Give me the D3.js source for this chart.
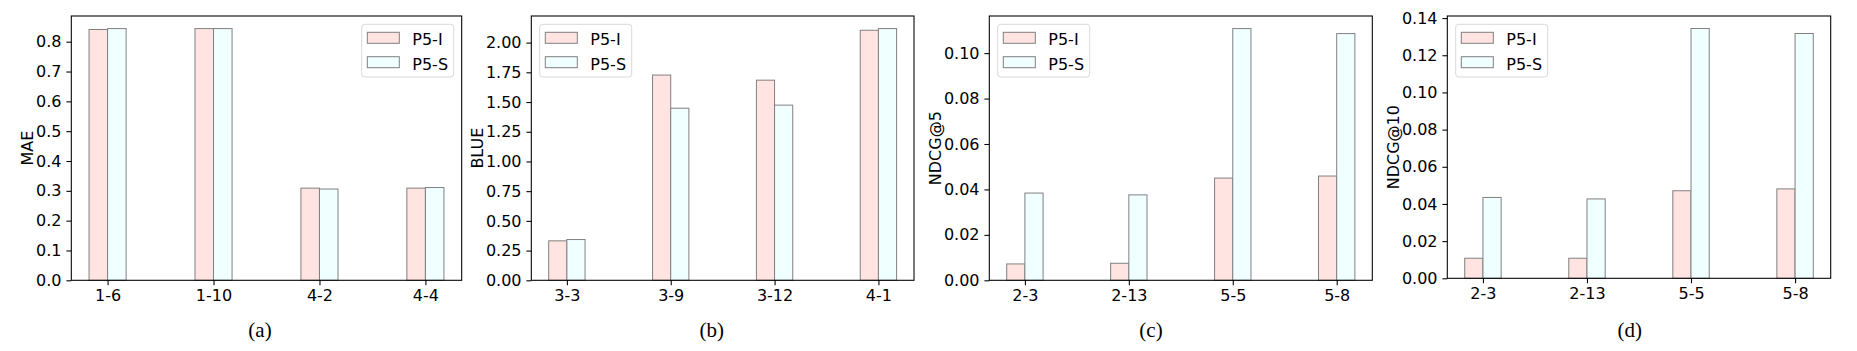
<!DOCTYPE html>
<html>
<head>
<meta charset="utf-8">
<script src="https://cdn.jsdelivr.net/npm/d3@7"></script>
<style>
  body { margin: 0; background: #fff; }
  svg { display: block; }
  text { font-family: "DejaVu Sans", sans-serif; fill: #000; }
  .caption { font-family: "Liberation Serif", "DejaVu Serif", serif; }
</style>
</head>
<body>
<svg id="chart" width="1857" height="351"></svg>
<script>
const series = ["P5-I", "P5-S"];
const colors = ["#ffe4e1", "#f0ffff"];

// (a) MAE
const catsA = ["1-6", "1-10", "4-2", "4-4"];
const p5iA = [0.841, 0.844, 0.309, 0.309];
const p5sA = [0.844, 0.844, 0.306, 0.311];
const ticksA = [0, 0.1, 0.2, 0.3, 0.4, 0.5, 0.6, 0.7, 0.8];

// (b) BLUE
const catsB = ["3-3", "3-9", "3-12", "4-1"];
const p5iB = [0.332, 1.727, 1.684, 2.104];
const p5sB = [0.343, 1.448, 1.474, 2.118];
const ticksB = [0, 0.25, 0.5, 0.75, 1.0, 1.25, 1.5, 1.75, 2.0];

// (c) NDCG@5
const catsC = ["2-3", "2-13", "5-5", "5-8"];
const p5iC = [0.0072, 0.0075, 0.0450, 0.0459];
const p5sC = [0.0384, 0.0376, 0.1108, 0.1086];
const ticksC = [0, 0.02, 0.04, 0.06, 0.08, 0.10];

// (d) NDCG@10
const catsD = ["2-3", "2-13", "5-5", "5-8"];
const p5iD = [0.0108, 0.0108, 0.0471, 0.0481];
const p5sD = [0.0435, 0.0427, 0.1344, 0.1317];
const ticksD = [0, 0.02, 0.04, 0.06, 0.08, 0.10, 0.12, 0.14];

const panels = [
  {cats: catsA, vals: [p5iA, p5sA], ticks: ticksA, fmt: ".1f", label: "MAE", caption: "(a)",
   left: 71.3, right: 461.7, top: 16, bottom: 280.3, capX: 260, legend: "right"},
  {cats: catsB, vals: [p5iB, p5sB], ticks: ticksB, fmt: ".2f", label: "BLUE", caption: "(b)",
   left: 531.3, right: 914, top: 16, bottom: 280.3, capX: 711.7, legend: "left"},
  {cats: catsC, vals: [p5iC, p5sC], ticks: ticksC, fmt: ".2f", label: "NDCG@5", caption: "(c)",
   left: 989.3, right: 1372.3, top: 16, bottom: 280.3, capX: 1151, legend: "left"},
  {cats: catsD, vals: [p5iD, p5sD], ticks: ticksD, fmt: ".2f", label: "NDCG@10", caption: "(d)",
   left: 1447.3, right: 1830.7, top: 16, bottom: 278.3, capX: 1629.7, legend: "left"}
];

const svg = d3.select("#chart");
const barW = 0.175;
const tick = 4.9;

panels.forEach(p => {
  const n = p.cats.length;
  const span = (n - 1) + 2 * barW;
  const x = d3.scaleLinear()
    .domain([-barW - 0.05 * span, n - 1 + barW + 0.05 * span])
    .range([p.left, p.right]);
  const ymax = d3.max(p.vals.flat()) * 1.05;
  const y = d3.scaleLinear().domain([0, ymax]).range([p.bottom, p.top]);

  const g = svg.append("g");

  // bars
  p.vals.forEach((vals, s) => {
    g.selectAll(null)
      .data(vals)
      .enter()
      .append("rect")
      .attr("x", (d, i) => x(i - barW + s * barW))
      .attr("width", x(barW) - x(0))
      .attr("y", d => y(d))
      .attr("height", d => y(0) - y(d))
      .attr("fill", colors[s])
      .attr("stroke", "#808080")
      .attr("stroke-width", 1);
  });

  // axes
  const xa = g.append("g")
    .attr("transform", `translate(0,${p.bottom})`)
    .call(d3.axisBottom(x).tickValues(d3.range(n)).tickFormat(i => p.cats[i])
      .tickSize(tick).tickPadding(4.9));
  const ya = g.append("g")
    .attr("transform", `translate(${p.left},0)`)
    .call(d3.axisLeft(y).tickValues(p.ticks).tickFormat(d3.format(p.fmt))
      .tickSize(tick).tickPadding(4.9));
  [xa, ya].forEach(a => {
    a.select(".domain").remove();
    a.selectAll("line").attr("stroke", "#000").attr("stroke-width", 1.07);
    a.selectAll("text").attr("font-size", 16).attr("font-family", "DejaVu Sans").attr("fill", "#000");
  });

  g.append("rect")
    .attr("x", p.left).attr("y", p.top)
    .attr("width", p.right - p.left).attr("height", p.bottom - p.top)
    .attr("fill", "none").attr("stroke", "#000").attr("stroke-width", 1.07);

  // y label placed beside widest tick label
  let tw = 0;
  ya.selectAll("text").each(function () { tw = Math.max(tw, this.getComputedTextLength()); });
  const lx = p.left - 12.7 - tw;
  g.append("text")
    .attr("transform", `translate(${lx},${(p.top + p.bottom) / 2}) rotate(-90)`)
    .attr("text-anchor", "middle")
    .attr("font-size", 16)
    .text(p.label);

  // legend
  const lw = 92, lh = 52.7;
  const lxb = p.legend === "right" ? p.right - 8 - lw : p.left + 8.4;
  const lyb = p.top + 8.3;
  const lg = g.append("g").attr("transform", `translate(${lxb},${lyb})`);
  lg.append("rect")
    .attr("width", lw).attr("height", lh).attr("rx", 3)
    .attr("fill", "#fff").attr("fill-opacity", 0.8)
    .attr("stroke", "#d9d9d9").attr("stroke-width", 1);
  series.forEach((name, s) => {
    const ry = 8 + s * 24.4;
    lg.append("rect")
      .attr("x", 5.6).attr("y", ry).attr("width", 32).attr("height", 11)
      .attr("fill", colors[s]).attr("stroke", "#808080").attr("stroke-width", 1);
    lg.append("text")
      .attr("x", 50.6).attr("y", ry + 13)
      .attr("font-size", 16)
      .text(name);
  });

  // caption
  svg.append("text")
    .attr("class", "caption")
    .attr("x", p.capX).attr("y", 337)
    .attr("text-anchor", "middle")
    .attr("font-size", 21)
    .text(p.caption);
});
</script>
</body>
</html>
